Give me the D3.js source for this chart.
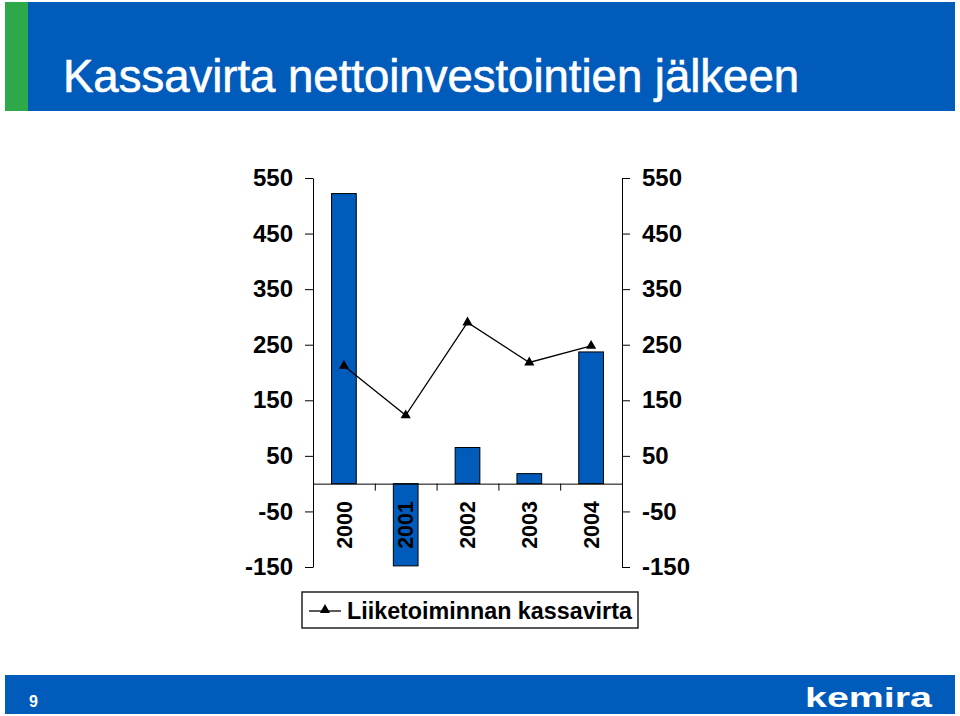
<!DOCTYPE html>
<html lang="fi">
<head>
<meta charset="UTF-8">
<title>Kassavirta nettoinvestointien jälkeen</title>
<script src="https://d3js.org/d3.v7.min.js"></script>
<style>
  body { margin: 0; background: #fff; }
  svg text { font-family: "Liberation Sans", Arial, sans-serif; }
</style>
</head>
<body>
<div id="chart"></div>
<script>
// data
var years = ["2000", "2001", "2002", "2003", "2004"];
var cashAfterInvest = [522, -148, 65, 18, 237];      // bars
var operatingCash = [212, 123, 290, 218, 248];        // line, "Liiketoiminnan kassavirta"
var yTicks = [-150, -50, 50, 150, 250, 350, 450, 550];
var legendLabel = "Liiketoiminnan kassavirta";
var title = "Kassavirta nettoinvestointien jälkeen";
var pageNo = "9";

var W = 960, H = 716;
var blue = "#005bbb", green = "#2fa84a";

var svg = d3.select("#chart").append("svg")
    .attr("width", W)
    .attr("height", H);

// header band
svg.append("rect").attr("x", 5).attr("y", 2).attr("width", 950).attr("height", 109).attr("fill", blue);
svg.append("rect").attr("x", 5).attr("y", 2).attr("width", 23).attr("height", 109).attr("fill", green);
svg.append("text")
    .attr("x", 63).attr("y", 92)
    .attr("fill", "#fff")
    .attr("stroke", "#fff").attr("stroke-width", 0.6)
    .style("font-size", "45.5px")
    .text(title);

// scales
var plotL = 313, plotR = 622;
var y = d3.scaleLinear().domain([-150, 550]).range([567, 178]);
var x = d3.scaleBand().domain(years).range([plotL, plotR]).paddingInner(0.6).paddingOuter(0.3);
var xb = d3.scaleLinear().domain([0, years.length]).range([plotL, plotR]);

// bars
svg.append("g").selectAll("rect")
    .data(cashAfterInvest)
    .join("rect")
    .attr("x", function (d, i) { return x(years[i]); })
    .attr("width", x.bandwidth())
    .attr("y", function (d) { return y(Math.max(0, d)); })
    .attr("height", function (d) { return Math.abs(y(d) - y(0)); })
    .attr("fill", blue)
    .attr("stroke", "#000")
    .attr("stroke-width", 1);

// axes (plain hyphen for negatives, as on the slide)
var leftAxis = d3.axisLeft(y).tickValues(yTicks).tickSize(8).tickSizeOuter(0).tickPadding(12).tickFormat(String);
var rightAxis = d3.axisRight(y).tickValues(yTicks).tickSize(8).tickSizeOuter(0).tickPadding(12).tickFormat(String);

svg.append("g").attr("class", "ax")
    .attr("transform", "translate(" + plotL + ",0)")
    .call(leftAxis);
svg.append("g").attr("class", "ax")
    .attr("transform", "translate(" + plotR + ",0)")
    .call(rightAxis);

svg.append("g").attr("class", "ax")
    .attr("transform", "translate(0," + y(0) + ")")
    .call(d3.axisBottom(xb).tickValues([1, 2, 3, 4]).tickSize(7).tickSizeOuter(0).tickFormat(""));

svg.selectAll(".ax text")
    .style("font-size", "24px")
    .style("font-weight", "bold")
    .attr("fill", "#000");
svg.selectAll(".ax path, .ax line").attr("stroke", "#000");

// year labels, rotated below the zero line
svg.append("g").selectAll("text")
    .data(years)
    .join("text")
    .attr("transform", function (d) { return "translate(" + (x(d) + x.bandwidth() / 2) + ",501) rotate(-90)"; })
    .attr("text-anchor", "end")
    .attr("dy", "0.36em")
    .style("font-size", "21.5px")
    .style("font-weight", "bold")
    .text(function (d) { return d; });

// line series
var cx = function (d, i) { return x(years[i]) + x.bandwidth() / 2; };
svg.append("path")
    .datum(operatingCash)
    .attr("fill", "none")
    .attr("stroke", "#000")
    .attr("stroke-width", 1.3)
    .attr("d", d3.line().x(cx).y(function (d) { return y(d); }));

var tri = d3.symbol().type(d3.symbolTriangle).size(45);
svg.append("g").selectAll("path")
    .data(operatingCash)
    .join("path")
    .attr("transform", function (d, i) { return "translate(" + cx(d, i) + "," + y(d) + ")"; })
    .attr("d", tri)
    .attr("fill", "#000");

// legend
var lg = svg.append("g").attr("transform", "translate(302,592)");
lg.append("rect").attr("width", 336).attr("height", 36)
    .attr("fill", "#fff").attr("stroke", "#222").attr("stroke-width", 1.5);
lg.append("line").attr("x1", 7).attr("x2", 39).attr("y1", 19).attr("y2", 19)
    .attr("stroke", "#000").attr("stroke-width", 1.3);
lg.append("path").attr("transform", "translate(23,18)").attr("d", tri).attr("fill", "#000");
lg.append("text").attr("x", 45).attr("y", 27)
    .style("font-size", "23.3px").style("font-weight", "bold")
    .text(legendLabel);

// footer
svg.append("rect").attr("x", 5).attr("y", 675).attr("width", 950).attr("height", 39).attr("fill", blue);
svg.append("text").attr("x", 29).attr("y", 707)
    .attr("fill", "#fff").style("font-size", "16px").style("font-weight", "bold")
    .text(pageNo);
svg.append("text").attr("x", 805).attr("y", 707)
    .attr("fill", "#fff")
    .attr("textLength", 127).attr("lengthAdjust", "spacingAndGlyphs")
    .style("font-size", "27px").style("font-weight", "bold")
    .text("kemira");
</script>
</body>
</html>
